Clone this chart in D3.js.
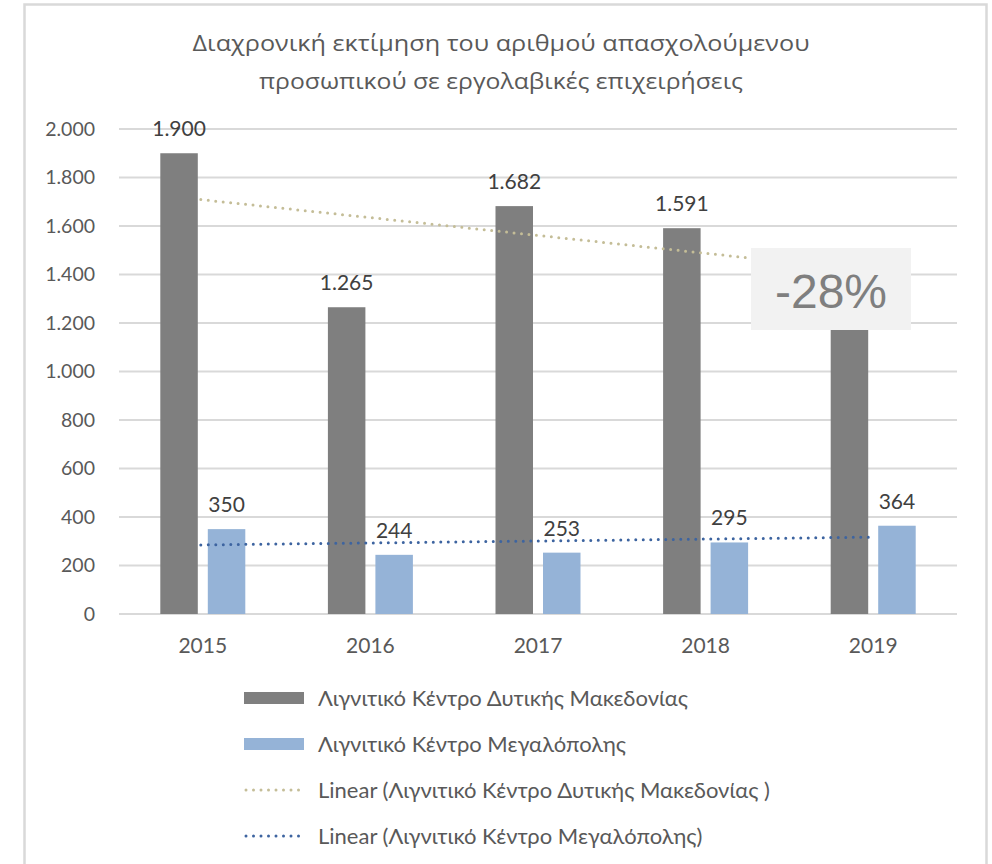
<!DOCTYPE html>
<html lang="el">
<head>
<meta charset="utf-8">
<title>Απασχολούμενο προσωπικό σε εργολαβικές επιχειρήσεις</title>
<script src="https://cdn.jsdelivr.net/npm/d3@7/dist/d3.min.js"></script>
<style>
  body { margin: 0; background: #fff; }
  text { font-family: "Lato", "Open Sans", sans-serif; }
</style>
</head>
<body>
<script>
// data
var years = ["2015", "2016", "2017", "2018", "2019"];
var seriesNames = ["Λιγνιτικό Κέντρο Δυτικής Μακεδονίας", "Λιγνιτικό Κέντρο Μεγαλόπολης"];
var westMacedonia = [1900, 1265, 1682, 1591, 1368];
var megalopoli = [350, 244, 253, 295, 364];
// linear trend, values at 2015 and 2019
var trendWestMacedonia = [1709, 1414];
var trendMegalopoli = [285, 317];
var yTicks = [0, 200, 400, 600, 800, 1000, 1200, 1400, 1600, 1800, 2000];
var titleLines = ["Διαχρονική εκτίμηση του αριθμού απασχολούμενου",
                  "προσωπικού σε εργολαβικές επιχειρήσεις"];
var legendLabels = ["Λιγνιτικό Κέντρο Δυτικής Μακεδονίας",
                    "Λιγνιτικό Κέντρο Μεγαλόπολης",
                    "Linear (Λιγνιτικό Κέντρο Δυτικής Μακεδονίας )",
                    "Linear (Λιγνιτικό Κέντρο Μεγαλόπολης)"];
var changeLabel = "-28%";

var barColors = ["#7f7f7f", "#95b3d7"];
var trendColors = ["#c4bd97", "#3d64a0"];

var width = 992, height = 864;
var svg = d3.select("body").append("svg")
    .attr("width", width)
    .attr("height", height);

// outer frame
svg.append("rect")
    .attr("x", 24.5).attr("y", 4.5)
    .attr("width", 962).attr("height", 900)
    .attr("fill", "#fff")
    .attr("stroke", "#d9d9d9")
    .attr("stroke-width", 2.5);

// title
var titleWidths = [617, 484];
svg.append("g").selectAll("text")
    .data(titleLines)
    .enter().append("text")
    .attr("x", 501)
    .attr("y", function(d, i) { return 51 + i * 38; })
    .attr("text-anchor", "middle")
    .attr("textLength", function(d, i) { return titleWidths[i]; })
    .attr("lengthAdjust", "spacingAndGlyphs")
    .style("font-family", "'Open Sans', 'Noto Sans', sans-serif")
    .style("font-size", "22px")
    .attr("fill", "#595959")
    .text(function(d) { return d; });

var x = d3.scaleBand().domain(years).range([119, 957]);
var x1 = d3.scaleBand().domain([0, 1]).range([-42.5, 42.5]).paddingInner(10 / 47.5);
var y = d3.scaleLinear().domain([0, 2000]).range([614, 129]);

var fmt = d3.formatLocale({decimal: ",", thousands: ".", grouping: [3], currency: ["€", ""]}).format(",d");

// gridlines
svg.append("g").selectAll("line")
    .data(yTicks)
    .enter().append("line")
    .attr("x1", 119).attr("x2", 957)
    .attr("y1", function(d) { return y(d); })
    .attr("y2", function(d) { return y(d); })
    .attr("stroke", "#d9d9d9")
    .attr("stroke-width", 1.8);

// y axis labels
var yAxis = d3.axisLeft(y).tickValues(yTicks).tickFormat(fmt).tickSize(0).tickPadding(0);
var gy = svg.append("g")
    .attr("transform", "translate(95,0)")
    .call(yAxis);
gy.select(".domain").remove();
gy.selectAll("text")
    .style("font-family", "Lato, 'Open Sans', sans-serif")
    .style("font-size", "19.5px")
    .attr("fill", "#595959");

// x axis labels
var xAxis = d3.axisBottom(x).tickSize(0).tickPadding(0);
var gx = svg.append("g")
    .attr("transform", "translate(0,614)")
    .call(xAxis);
gx.select(".domain").remove();
gx.selectAll("text")
    .attr("dy", null)
    .attr("y", 39)
    .style("font-family", "Lato, 'Open Sans', sans-serif")
    .style("font-size", "21px")
    .attr("fill", "#595959");

// bars
var series = [westMacedonia, megalopoli];
series.forEach(function(vals, s) {
    var g = svg.append("g");
    g.selectAll("rect")
        .data(vals)
        .enter().append("rect")
        .attr("x", function(d, i) { return x(years[i]) + x.bandwidth() / 2 + x1(s); })
        .attr("y", function(d) { return y(d); })
        .attr("width", x1.bandwidth())
        .attr("height", function(d) { return y(0) - y(d); })
        .attr("fill", barColors[s]);
    g.selectAll("text")
        .data(vals)
        .enter().append("text")
        .attr("x", function(d, i) { return x(years[i]) + x.bandwidth() / 2 + x1(s) + x1.bandwidth() / 2; })
        .attr("y", function(d) { return y(d) - 17; })
        .attr("text-anchor", "middle")
        .style("font-size", "21px")
        .attr("fill", "#404040")
        .text(function(d) { return fmt(d); });
});

// trendlines
var trends = [trendWestMacedonia, trendMegalopoli];
trends.forEach(function(t, s) {
    svg.append("line")
        .attr("x1", x(years[0]) + x.bandwidth() / 2 - 2)
        .attr("x2", x(years[years.length - 1]) + x.bandwidth() / 2)
        .attr("y1", y(t[0]))
        .attr("y2", y(t[1]))
        .attr("stroke", trendColors[s])
        .attr("stroke-width", 3)
        .attr("stroke-linecap", "round")
        .attr("stroke-dasharray", "0 7.5");
});

// change callout
svg.append("rect")
    .attr("x", 751).attr("y", 248)
    .attr("width", 160).attr("height", 82)
    .attr("fill", "#f2f2f2");
svg.append("text")
    .attr("x", 831).attr("y", 308)
    .attr("text-anchor", "middle")
    .style("font-family", "'Liberation Sans', Arial, sans-serif")
    .style("font-size", "48px")
    .attr("fill", "#7f7f7f")
    .text(changeLabel);

// legend
var legend = svg.append("g");
var rows = legend.selectAll("g")
    .data(legendLabels)
    .enter().append("g")
    .attr("transform", function(d, i) { return "translate(244," + (698 + i * 46) + ")"; });
rows.each(function(d, i) {
    var r = d3.select(this);
    if (i < 2) {
        r.append("rect")
            .attr("x", 0).attr("y", -6)
            .attr("width", 60).attr("height", 12)
            .attr("fill", barColors[i]);
    } else {
        r.append("line")
            .attr("x1", 2).attr("x2", 60)
            .attr("y1", 0).attr("y2", 0)
            .attr("stroke", trendColors[i - 2])
            .attr("stroke-width", 3)
            .attr("stroke-linecap", "round")
            .attr("stroke-dasharray", "0 7.5");
    }
    r.append("text")
        .attr("x", 74)
        .attr("y", 0)
        .attr("dy", "0.35em")
        .style("font-size", "22px")
        .attr("fill", "#595959")
        .text(d);
});
</script>
</body>
</html>
